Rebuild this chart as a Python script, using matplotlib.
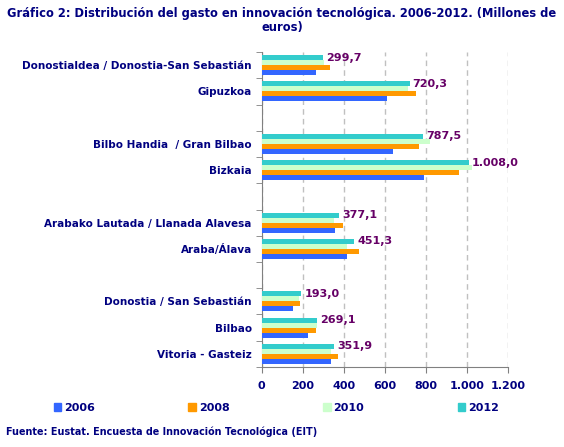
import numpy as np
import matplotlib.pyplot as plt
from matplotlib.patches import Patch

# categories top to bottom, "" = empty slot between groups
categories = ["Donostialdea / Donostia-San Sebastián", "Gipuzkoa", "",
              "Bilbo Handia  / Gran Bilbao", "Bizkaia", "",
              "Arabako Lautada / Llanada Alavesa", "Araba/Álava", "",
              "Donostia / San Sebastián", "Bilbao", "Vitoria - Gasteiz"]

v2006 = [263, 612, np.nan, 639, 790, np.nan, 357, 415, np.nan, 152, 225, 337]
v2008 = [335, 752, np.nan, 765, 960, np.nan, 396, 473, np.nan, 186, 264, 371]
v2010 = [302, 714, np.nan, 819, 1023, np.nan, 352, 415, np.nan, 182, 269, 337]
v2012 = [299.7, 720.3, np.nan, 787.5, 1008.0, np.nan, 377.1, 451.3, np.nan, 193.0, 269.1, 351.9]

series = [("2012", v2012, "#33CCCC"), ("2010", v2010, "#CCFFCC"),
          ("2008", v2008, "#FF9900"), ("2006", v2006, "#3366FF")]

navy = "#000080"
plt.rcParams['font.family'] = 'DejaVu Sans'
plt.rcParams['font.weight'] = 'bold'

fig = plt.figure(figsize=(5.64, 4.47), dpi=100)
ax = fig.add_axes([0.4637, 0.179, 0.4375, 0.7046])

y = np.arange(len(categories))
h = 0.19
for i, (name, vals, col) in enumerate(series):
    ax.barh(y + (i - 1.5) * h, vals, height=h, color=col, zorder=3)

def fmt(v):
    s = "{:,.1f}".format(v)
    return s.replace(",", "X").replace(".", ",").replace("X", ".")

for yi, v in zip(y, v2012):
    if not np.isnan(v):
        ax.text(v + 15, yi - 1.5 * h, fmt(v), color="#660066", fontsize=8,
                fontweight="bold", va="center", ha="left", zorder=4)

ax.set_xlim(0, 1200)
ax.set_ylim(len(categories) - 0.5, -0.5)
ax.set_xticks(np.arange(0, 1201, 200))
ax.set_xticklabels([fmt(t)[:-2] for t in np.arange(0, 1201, 200)])
ax.set_yticks(y)
ax.set_yticklabels(categories)
ax.set_yticks(np.arange(-0.5, len(categories), 1), minor=True)
ax.tick_params(axis="y", which="major", length=0, pad=7, labelsize=7.5, labelcolor=navy)
ax.tick_params(axis="y", which="minor", length=4, color="#808080")
ax.tick_params(axis="x", length=4, color="#808080", labelsize=8, labelcolor=navy, pad=6)

ax.grid(axis="x", color="#C0C0C0", linestyle=(0, (4, 3)), linewidth=1, zorder=0)
for s in ["top", "right"]:
    ax.spines[s].set_visible(False)
for s in ["left", "bottom"]:
    ax.spines[s].set_color("#808080")

fig.text(0.5, 0.985, "Gráfico 2: Distribución del gasto en innovación tecnológica. 2006-2012. (Millones de\neuros)",
         ha="center", va="top", fontsize=8.3, fontweight="bold", color=navy, linespacing=1.15)

handles = [Patch(color=c, label=n) for n, v, c in reversed(series)]
fig.legend(handles=handles, loc="center", bbox_to_anchor=(0.49, 0.088), ncol=4, frameon=False,
           handlelength=0.7, handleheight=0.7, handletextpad=0.25, columnspacing=8.4,
           prop={"size": 8, "weight": "bold"}, labelcolor=navy)

fig.text(0.011, 0.033, "Fuente: Eustat. Encuesta de Innovación Tecnológica (EIT)",
         ha="left", va="center", fontsize=6.9, fontweight="bold", color=navy)

fig.savefig("out.png", dpi=100)
